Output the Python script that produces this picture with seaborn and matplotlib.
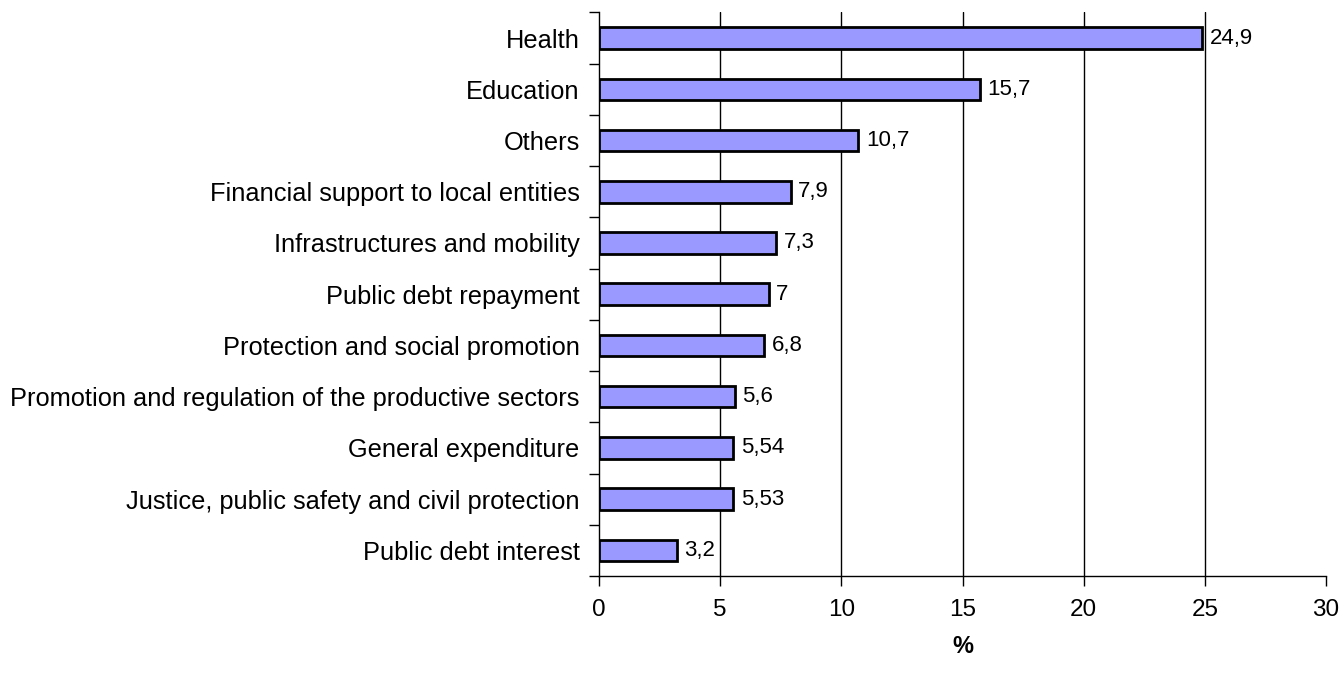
import matplotlib
matplotlib.use("Agg")
import matplotlib.pyplot as plt
import numpy as np
import pandas as pd
import seaborn as sns

categories = [
    "Health",
    "Education",
    "Others",
    "Financial support to local entities",
    "Infrastructures and mobility",
    "Public debt repayment",
    "Protection and social promotion",
    "Promotion and regulation of the productive sectors",
    "General expenditure",
    "Justice, public safety and civil protection",
    "Public debt interest",
]
values = [24.9, 15.7, 10.7, 7.9, 7.3, 7.0, 6.8, 5.6, 5.54, 5.53, 3.2]
value_labels = ["24,9", "15,7", "10,7", "7,9", "7,3", "7", "6,8", "5,6", "5,54", "5,53", "3,2"]
x_ticks = [0, 5, 10, 15, 20, 25, 30]

sns.set_theme(style="white")
plt.rcParams["font.family"] = ["Liberation Sans", "DejaVu Sans"]

df = pd.DataFrame({"category": categories, "value": values})

fig = plt.figure(figsize=(13.42, 6.79), dpi=100)
ax = fig.add_axes([0.4464, 0.1517, 0.5417, 0.83])

sns.barplot(data=df, x="value", y="category", color="#9999FF", saturation=1,
            edgecolor="black", linewidth=2, width=0.42, ax=ax, zorder=3)

# value labels with comma decimals, right of each bar
for i, (v, lab) in enumerate(zip(values, value_labels)):
    ax.annotate(lab, (v, i), xytext=(5.5, 0), textcoords="offset points",
                va="center", ha="left", fontsize=16, color="black")

ax.set_xlim(0, 30)
ax.set_ylim(len(categories) - 0.5, -0.5)
ax.set_xticks(x_ticks)
ax.set_xticklabels([str(t) for t in x_ticks], fontsize=17.5, color="black")
ax.tick_params(axis="x", length=7, width=1, color="black", pad=9.5, bottom=True)
for t in x_ticks[1:-1]:
    ax.axvline(t, color="black", linewidth=1, zorder=1)

ax.set_yticks(range(len(categories)))
ax.set_yticklabels(categories, fontsize=18.3, color="black")
ax.tick_params(axis="y", which="major", length=0, pad=14)
ax.set_yticks(np.arange(-0.5, len(categories), 1.0), minor=True)
ax.tick_params(axis="y", which="minor", length=7, width=1, color="black", left=True)

for s in ["top", "right"]:
    ax.spines[s].set_visible(False)
for s in ["left", "bottom"]:
    ax.spines[s].set_color("black")
    ax.spines[s].set_linewidth(1)

ax.set_ylabel("")
ax.set_xlabel("%", fontsize=17, fontweight="bold", color="black", labelpad=10)

fig.savefig("out.png", dpi=100)
